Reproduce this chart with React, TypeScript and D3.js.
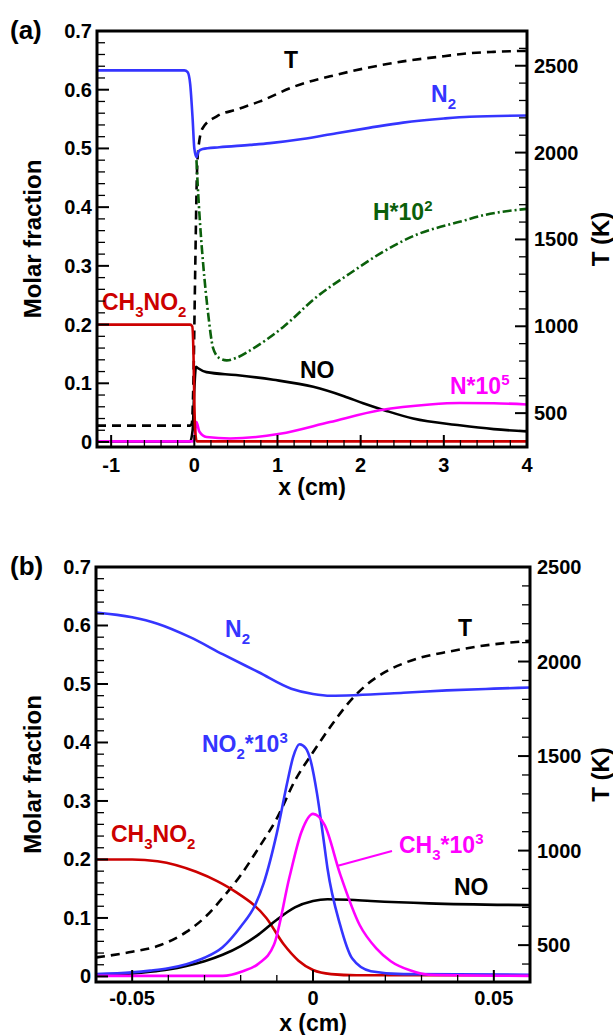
import React from 'react'
import * as d3 from 'd3'

// ---- panel (a) data, x in cm ----
const aN2X = [-1.17, -0.12, -0.08, -0.05, -0.02, 0.0, 0.026, 0.05, 0.1, 0.3, 0.67, 0.91, 1.3, 1.71, 2.1, 2.51, 3.0, 3.31, 4.0]
const aN2 = [0.633, 0.633, 0.63, 0.61, 0.55, 0.5, 0.485, 0.495, 0.499, 0.502, 0.506, 0.509, 0.516, 0.526, 0.535, 0.544, 0.551, 0.554, 0.556]
const aTX = [-1.17, -0.05, -0.03, -0.01, 0.01, 0.03, 0.05, 0.1, 0.27, 0.51, 0.79, 1.2, 1.71, 2.1, 2.51, 3.0, 3.31, 3.6, 4.0]
const aT = [428, 428, 440, 700, 1300, 1850, 2030, 2140, 2209, 2248, 2295, 2380, 2448, 2490, 2525, 2555, 2572, 2580, 2586]
const aHX = [0.026, 0.04, 0.07, 0.106, 0.166, 0.226, 0.3, 0.39, 0.5, 0.67, 1.07, 1.47, 1.87, 2.27, 2.67, 3.19, 3.5, 4.0]
const aH = [0.48, 0.44, 0.37, 0.304, 0.219, 0.16, 0.143, 0.139, 0.143, 0.156, 0.196, 0.247, 0.287, 0.324, 0.353, 0.375, 0.387, 0.397]
const aNOX = [-1.17, -0.05, -0.02, 0.0, 0.02, 0.04, 0.147, 0.5, 0.95, 1.43, 1.8, 2.03, 2.31, 2.63, 3.19, 3.6, 4.0]
const aNO = [0.001, 0.001, 0.02, 0.09, 0.128, 0.126, 0.119, 0.114, 0.106, 0.094, 0.078, 0.066, 0.053, 0.04, 0.0285, 0.022, 0.018]
const aNX = [-1.17, -0.02, 0.0, 0.015, 0.026, 0.06, 0.147, 0.43, 1.03, 1.63, 2.23, 2.83, 3.19, 3.6, 4.0]
const aN = [0.001, 0.001, 0.002, 0.025, 0.034, 0.018, 0.0085, 0.006, 0.014, 0.034, 0.054, 0.064, 0.0665, 0.066, 0.064]
const aCH3NO2X = [-1.17, -0.05, -0.025, -0.01, 0.0, 0.01, 0.03, 4.0]
const aCH3NO2 = [0.2, 0.2, 0.197, 0.15, 0.07, 0.02, 0.001, 0.001]

// ---- panel (b) data, x in cm ----
const bN2X = [-0.06, -0.05, -0.043, -0.034, -0.025, -0.015, -0.006, 0.0, 0.005, 0.012, 0.025, 0.037, 0.05, 0.06]
const bN2 = [0.622, 0.614, 0.603, 0.58, 0.551, 0.52, 0.492, 0.483, 0.48, 0.481, 0.485, 0.489, 0.492, 0.494]
const bTX = [-0.06, -0.05, -0.043, -0.035, -0.03, -0.025, -0.02, -0.015, -0.01, -0.005, 0.0, 0.005, 0.01, 0.015, 0.02, 0.025, 0.03, 0.0374, 0.045, 0.06]
const bT = [435, 465, 495, 570, 645, 750, 870, 1015, 1170, 1370, 1520, 1660, 1785, 1880, 1945, 1990, 2022, 2052, 2078, 2110]
const bNO2X = [-0.06, -0.05, -0.045, -0.04, -0.035, -0.03, -0.025, -0.02, -0.016, -0.0136, -0.01, -0.007, -0.0055, -0.0037, -0.002, -0.0007, 0.0011, 0.0029, 0.004, 0.0075, 0.0108, 0.016, 0.025, 0.06]
const bNO2 = [0.004, 0.007, 0.01, 0.014, 0.021, 0.032, 0.05, 0.085, 0.122, 0.16, 0.245, 0.335, 0.375, 0.397, 0.39, 0.37, 0.313, 0.235, 0.185, 0.088, 0.031, 0.009, 0.004, 0.003]
const bCH3X = [-0.06, -0.025, -0.0194, -0.015, -0.0108, -0.0065, -0.0032, 0.0, 0.0032, 0.0075, 0.0129, 0.0175, 0.0215, 0.027, 0.032, 0.06]
const bCH3 = [0.001, 0.001, 0.009, 0.022, 0.054, 0.17, 0.247, 0.278, 0.259, 0.175, 0.088, 0.048, 0.026, 0.01, 0.003, 0.001]
const bCH3NO2X = [-0.06, -0.05, -0.043, -0.0323, -0.0265, -0.0215, -0.0129, -0.0081, -0.004, 0.0, 0.005, 0.012, 0.06]
const bCH3NO2 = [0.2, 0.2, 0.197, 0.179, 0.163, 0.145, 0.1, 0.055, 0.027, 0.011, 0.004, 0.002, 0.002]
const bNOX = [-0.06, -0.05, -0.045, -0.04, -0.035, -0.03, -0.025, -0.02, -0.015, -0.01, -0.005, 0.0, 0.004, 0.01, 0.016, 0.032, 0.06]
const bNO = [0.002, 0.005, 0.008, 0.012, 0.018, 0.026, 0.037, 0.052, 0.072, 0.097, 0.118, 0.129, 0.132, 0.131, 0.129, 0.125, 0.122]

// ---- ticks ----
const aXTicks = [-1, 0, 1, 2, 3, 4]
const bXTicks = [-0.05, 0, 0.05]
const yTicks = [0, 0.1, 0.2, 0.3, 0.4, 0.5, 0.6, 0.7]
const tTicks = [500, 1000, 1500, 2000, 2500]

const FONT = 'Liberation Sans, Arial, Helvetica, sans-serif'
const BLUE = '#3535ff'
const RED = '#cc0000'
const MAGENTA = '#ff00ff'
const GREEN = '#0b600b'

const zip = (xs, ys) => xs.map((x, i) => [x, ys[i]])

const Label = ({ x, y, parts, fill, size = 23 }) => {
  let shift = 0
  return (
    <text x={x} y={y} fill={fill} fontFamily={FONT} fontWeight='bold' fontSize={size}>
      {parts.map((p, i) => {
        const target = p.sub ? 7 : p.sup ? -9 : 0
        const dy = target - shift
        shift = target
        return (
          <tspan key={i} dy={dy} fontSize={p.sub || p.sup ? 15 : size}>{p.t}</tspan>
        )
      })}
    </text>
  )
}

const Panel = ({ box, xDomain, tDomain, yMin, xTicks, xMinor, xFmt, series, labels, tag, xTitleY, xLabelY }) => {
  const { left, right, top, bottom } = box
  const x = d3.scaleLinear().domain(xDomain).range([left, right])
  const y = d3.scaleLinear().domain([yMin, 0.7]).range([bottom, top])
  const t = d3.scaleLinear().domain(tDomain).range([bottom, top])

  const yMinor = d3.range(0.02, 0.7, 0.02).filter(v => Math.abs(v * 10 - Math.round(v * 10)) > 0.01)
  const tMinor = d3.range(400, tDomain[1], 100).filter(v => v % 500 !== 0)
  const clipId = 'clip' + tag

  const line = (s) => d3.line()
    .x(d => x(d[0]))
    .y(d => (s.axis === 't' ? t(d[1]) : y(d[1])))
    .curve(d3.curveMonotoneX)(zip(s.xs, s.ys))

  const midY = (top + bottom) / 2
  return (
    <g>
      <defs>
        <clipPath id={clipId}><rect x={left} y={top} width={right - left} height={bottom - top} /></clipPath>
      </defs>
      <g clipPath={`url(#${clipId})`}>
        {series.map((s, i) => (
          <path key={i} d={line(s)} fill='none' stroke={s.color} strokeWidth={s.width || 2.6}
            strokeDasharray={s.dash} />
        ))}
      </g>
      {labels}
      {/* ticks */}
      {yTicks.map(v => <line key={'ym' + v} x1={left} x2={left + 12} y1={y(v)} y2={y(v)} stroke='#000' strokeWidth={2} />)}
      {yMinor.map(v => <line key={'yn' + v} x1={left} x2={left + 8} y1={y(v)} y2={y(v)} stroke='#000' strokeWidth={1.3} />)}
      {tTicks.map(v => <line key={'tm' + v} x1={right - 12} x2={right} y1={t(v)} y2={t(v)} stroke='#000' strokeWidth={2} />)}
      {tMinor.map(v => <line key={'tn' + v} x1={right - 8} x2={right} y1={t(v)} y2={t(v)} stroke='#000' strokeWidth={1.3} />)}
      {xTicks.map(v => <line key={'xm' + v} x1={x(v)} x2={x(v)} y1={bottom} y2={bottom - 12} stroke='#000' strokeWidth={2} />)}
      {xMinor.map(v => <line key={'xn' + v} x1={x(v)} x2={x(v)} y1={bottom} y2={bottom - 7} stroke='#000' strokeWidth={1.3} />)}
      <rect x={left} y={top} width={right - left} height={bottom - top} fill='none' stroke='#000' strokeWidth={3} />
      {/* tick labels */}
      <g fontFamily={FONT} fontWeight='bold' fontSize={20} fill='#000'>
        {yTicks.map(v => <text key={'yl' + v} x={left - 5} y={y(v) + 7} textAnchor='end'>{v === 0 ? '0' : v.toFixed(1)}</text>)}
        {tTicks.map(v => <text key={'tl' + v} x={right + 7} y={t(v) + 7}>{v}</text>)}
        {xTicks.map(v => <text key={'xl' + v} x={x(v)} y={xLabelY} textAnchor='middle'>{xFmt(v)}</text>)}
      </g>
      <g fontFamily={FONT} fontWeight='bold' fontSize={23} fill='#000'>
        <text x={(left + right) / 2} y={xTitleY} textAnchor='middle'>x (cm)</text>
        <text transform={`translate(41,${midY}) rotate(-90)`} textAnchor='middle' fontSize={24}>Molar fraction</text>
        <text transform={`translate(609,${midY}) rotate(-90)`} textAnchor='middle' fontSize={24}>T (K)</text>
        <text x={10} y={top + 8} fontSize={26}>{`(${tag})`}</text>
      </g>
    </g>
  )
}

const App = () => {
  const seriesA = [
    { xs: aTX, ys: aT, axis: 't', color: '#000', dash: '9 6', width: 2.6 },
    { xs: aHX, ys: aH, color: GREEN, dash: '9 3 2 3', width: 2.6 },
    { xs: aN2X, ys: aN2, color: BLUE },
    { xs: aNOX, ys: aNO, color: '#000' },
    { xs: aNX, ys: aN, color: MAGENTA },
    { xs: aCH3NO2X, ys: aCH3NO2, color: RED },
  ]
  const seriesB = [
    { xs: bTX, ys: bT, axis: 't', color: '#000', dash: '9 6', width: 2.6 },
    { xs: bN2X, ys: bN2, color: BLUE },
    { xs: bCH3NO2X, ys: bCH3NO2, color: RED },
    { xs: bNOX, ys: bNO, color: '#000' },
    { xs: bNO2X, ys: bNO2, color: BLUE },
    { xs: bCH3X, ys: bCH3, color: MAGENTA },
  ]
  const labelsA = (
    <g>
      <Label x={284} y={68} fill='#000' parts={[{ t: 'T' }]} />
      <Label x={431} y={102} fill={BLUE} parts={[{ t: 'N' }, { t: '2', sub: true }]} />
      <Label x={373} y={220} fill={GREEN} parts={[{ t: 'H*10' }, { t: '2', sup: true }]} />
      <Label x={102} y={310} fill={RED} parts={[{ t: 'CH' }, { t: '3', sub: true }, { t: 'NO' }, { t: '2', sub: true }]} />
      <Label x={300} y={378} fill='#000' parts={[{ t: 'NO' }]} />
      <Label x={450} y={394} fill={MAGENTA} parts={[{ t: 'N*10' }, { t: '5', sup: true }]} />
    </g>
  )
  const labelsB = (
    <g>
      <Label x={225} y={637} fill={BLUE} parts={[{ t: 'N' }, { t: '2', sub: true }]} />
      <Label x={458} y={636} fill='#000' parts={[{ t: 'T' }]} />
      <Label x={202} y={752} fill={BLUE} parts={[{ t: 'NO' }, { t: '2', sub: true }, { t: '*10' }, { t: '3', sup: true }]} />
      <Label x={111} y={842} fill={RED} parts={[{ t: 'CH' }, { t: '3', sub: true }, { t: 'NO' }, { t: '2', sub: true }]} />
      <Label x={399} y={853} fill={MAGENTA} parts={[{ t: 'CH' }, { t: '3', sub: true }, { t: '*10' }, { t: '3', sup: true }]} />
      <line x1={392} y1={851} x2={337} y2={866} stroke={MAGENTA} strokeWidth={2} />
      <Label x={454} y={895} fill='#000' parts={[{ t: 'NO' }]} />
    </g>
  )
  const aMinor = d3.range(-1.0, 4.0, 0.2).filter(v => Math.abs(v - Math.round(v)) > 0.01)
  const bMinor = d3.range(-0.05, 0.06, 0.01).filter(v => Math.abs(v / 0.05 - Math.round(v / 0.05)) > 0.01)
  return (
    <svg width={613} height={1035} style={{ position: 'absolute', left: 0, top: 0, background: '#fff' }}>
      <Panel tag='a' box={{ left: 97, right: 527, top: 31, bottom: 447 }} xDomain={[-1.17, 4]} tDomain={[305, 2700]}
        yMin={-0.0085} xTicks={aXTicks} xMinor={aMinor} xFmt={v => String(v)} series={seriesA} labels={labelsA}
        xLabelY={472} xTitleY={495} />
      <Panel tag='b' box={{ left: 96, right: 530, top: 567, bottom: 982 }} xDomain={[-0.06, 0.06]} tDomain={[305, 2500]}
        yMin={-0.0095} xTicks={bXTicks} xMinor={bMinor} xFmt={v => (v === 0 ? '0' : String(v))} series={seriesB} labels={labelsB}
        xLabelY={1005} xTitleY={1031} />
    </svg>
  )
}

export default App
